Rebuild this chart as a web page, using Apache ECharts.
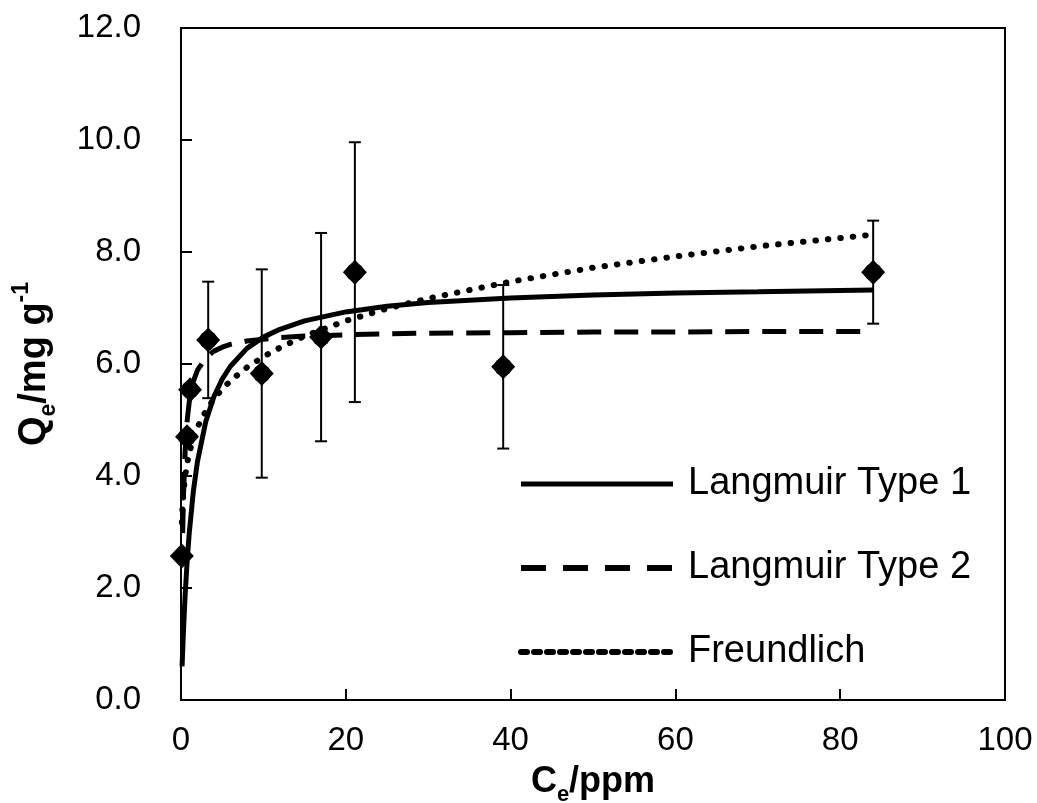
<!DOCTYPE html>
<html>
<head>
<meta charset="utf-8">
<script src="https://cdn.jsdelivr.net/npm/echarts@6/dist/echarts.min.js"></script>
<style>
html,body{margin:0;padding:0;background:#fff;}
#chart{width:1037px;height:803px;}
</style>
</head>
<body>
<div id="chart"></div>
<script>
// Observed data (Ce in ppm, Qe in mg/g, error = +/- half-range)
const obsX   = [0.1, 0.73, 1.1, 3.3, 9.8, 17.0, 21.1, 39.1, 84.0];
const obsY   = [2.57, 4.70, 5.54, 6.43, 5.83, 6.48, 7.64, 5.95, 7.64];
const obsErr = [0, 0, 0, 1.04, 1.86, 1.86, 2.32, 1.46, 0.92];

// Model curves
const lang1X = [0.13, 0.3, 0.5, 0.75, 1, 1.5, 2, 3, 4, 5, 6, 8, 10, 12, 15, 20, 25, 30, 40, 50, 60, 70, 84];
const lang1Y = [0.60, 1.24, 1.87, 2.49, 2.98, 3.73, 4.26, 4.97, 5.42, 5.73, 5.96, 6.28, 6.48, 6.62, 6.77, 6.93, 7.03, 7.10, 7.18, 7.23, 7.27, 7.29, 7.32];

const lang2X = [0.2, 0.3, 0.5, 0.75, 1, 1.5, 2, 3, 4, 5, 6, 8, 10, 12, 15, 20, 25, 30, 40, 50, 60, 70, 84];
const lang2Y = [2.98, 3.65, 4.45, 4.99, 5.32, 5.69, 5.89, 6.11, 6.23, 6.30, 6.35, 6.41, 6.44, 6.47, 6.50, 6.52, 6.54, 6.55, 6.56, 6.57, 6.57, 6.58, 6.58];

const freuX = [0.1, 0.2, 0.3, 0.5, 0.75, 1, 1.5, 2, 3, 4, 5, 6, 8, 10, 12, 15, 20, 25, 30, 40, 50, 60, 70, 84];
const freuY = [3.17, 3.50, 3.71, 3.99, 4.23, 4.41, 4.67, 4.87, 5.16, 5.38, 5.55, 5.70, 5.94, 6.13, 6.29, 6.50, 6.77, 6.99, 7.17, 7.47, 7.72, 7.92, 8.10, 8.31];

const seriesNames = ['Langmuir Type 1', 'Langmuir Type 2', 'Freundlich'];
const xTicks = {min: 0, max: 100, interval: 20};
const yTicks = {min: 0, max: 12, interval: 2};

const FONT = "'Liberation Sans', Arial, Helvetica, sans-serif";
const zip = (xs, ys) => xs.map((x, i) => [x, ys[i]]);

const errData = obsX.map((x, i) => [x, obsY[i] - obsErr[i], obsY[i] + obsErr[i]]).filter((d, i) => obsErr[i] > 0);

function titleRich(big, small) {
  return {
    b: {fontSize: big, fontWeight: 'bold', fontFamily: FONT, color: '#000', lineHeight: big + 12},
    s: {fontSize: small, fontWeight: 'bold', fontFamily: FONT, color: '#000', lineHeight: small, verticalAlign: 'bottom'},
    p: {fontSize: small, fontWeight: 'bold', fontFamily: FONT, color: '#000', lineHeight: small, verticalAlign: 'top'}
  };
}

const solidStyle = {color: '#000', width: 5, type: 'solid'};
const dashStyle = {color: '#000', width: 5, type: [24, 13]};
const dotStyle = {color: '#000', width: 6, type: [0.5, 12], cap: 'round'};

const chart = echarts.init(document.getElementById('chart'));
chart.setOption({
  animation: false,
  backgroundColor: '#fff',
  grid: {left: 181, right: 32, top: 28, bottom: 103, outerBoundsMode: 'none', containLabel: false,
         show: true, borderColor: '#000', borderWidth: 2, backgroundColor: 'transparent'},
  xAxis: {
    type: 'value', min: xTicks.min, max: xTicks.max, interval: xTicks.interval,
    name: '{b|C}{s|e}{b|/ppm}', nameLocation: 'middle', nameGap: 58,
    nameTextStyle: {rich: titleRich(36, 22)},
    axisLine: {show: true, lineStyle: {color: '#000', width: 2}},
    axisTick: {show: true, inside: true, length: 11, lineStyle: {color: '#000', width: 2}},
    axisLabel: {fontSize: 33, color: '#000', fontFamily: FONT, margin: 24},
    splitLine: {show: false}
  },
  yAxis: {
    type: 'value', min: yTicks.min, max: yTicks.max, interval: yTicks.interval,
    name: '{b|Q}{s|e}{b|/mg g}{p|-1}', nameLocation: 'middle', nameGap: 121, nameRotate: 90,
    nameTextStyle: {rich: titleRich(38, 23)},
    axisLine: {show: true, lineStyle: {color: '#000', width: 2}},
    axisTick: {show: true, inside: true, length: 11, lineStyle: {color: '#000', width: 2}},
    axisLabel: {fontSize: 33, color: '#000', fontFamily: FONT, margin: 40, formatter: v => v.toFixed(1)},
    splitLine: {show: false}
  },
  legend: {
    orient: 'vertical', left: 513, top: 458, itemGap: 42, itemWidth: 152, itemHeight: 22,
    selectedMode: false,
    itemStyle: {color: 'transparent', borderWidth: 0, opacity: 0},
    textStyle: {fontSize: 38, color: '#000', fontFamily: FONT, lineHeight: 42, padding: [0, 0, 0, 10]},
    data: [
      {name: seriesNames[0], lineStyle: solidStyle},
      {name: seriesNames[1], lineStyle: {color: '#000', width: 6, type: [25, 17]}},
      {name: seriesNames[2], lineStyle: {color: '#000', width: 6, type: [6, 7]}}
    ]
  },
  series: [
    {
      name: seriesNames[0], type: 'line', data: zip(lang1X, lang1Y), symbol: 'none', smooth: false,
      itemStyle: {color: '#000'}, lineStyle: solidStyle, z: 3
    },
    {
      name: seriesNames[1], type: 'line', data: zip(lang2X, lang2Y), symbol: 'none', smooth: false,
      itemStyle: {color: '#000'}, lineStyle: dashStyle, z: 3
    },
    {
      name: seriesNames[2], type: 'line', data: zip(freuX, freuY), symbol: 'none', smooth: false,
      itemStyle: {color: '#000'}, lineStyle: dotStyle, z: 3
    },
    {
      name: 'err', type: 'custom', data: errData, z: 4,
      renderItem: function (params, api) {
        const x = api.value(0);
        const lo = api.coord([x, api.value(1)]);
        const hi = api.coord([x, api.value(2)]);
        const hw = 6;
        const st = {stroke: '#000', lineWidth: 2};
        return {type: 'group', children: [
          {type: 'line', shape: {x1: hi[0], y1: hi[1], x2: lo[0], y2: lo[1]}, style: st},
          {type: 'line', shape: {x1: hi[0] - hw, y1: hi[1], x2: hi[0] + hw, y2: hi[1]}, style: st},
          {type: 'line', shape: {x1: lo[0] - hw, y1: lo[1], x2: lo[0] + hw, y2: lo[1]}, style: st}
        ]};
      }
    },
    {
      name: 'obs', type: 'scatter', data: zip(obsX, obsY), symbol: 'diamond', symbolSize: [24, 25],
      itemStyle: {color: '#000', opacity: 1}, z: 5
    },
    {
      name: 'obs2', type: 'scatter', data: zip(obsX.slice(1), obsY.slice(1)), symbol: 'circle', symbolSize: 18,
      itemStyle: {color: '#000', opacity: 1}, z: 5
    }
  ]
});
</script>
</body>
</html>
